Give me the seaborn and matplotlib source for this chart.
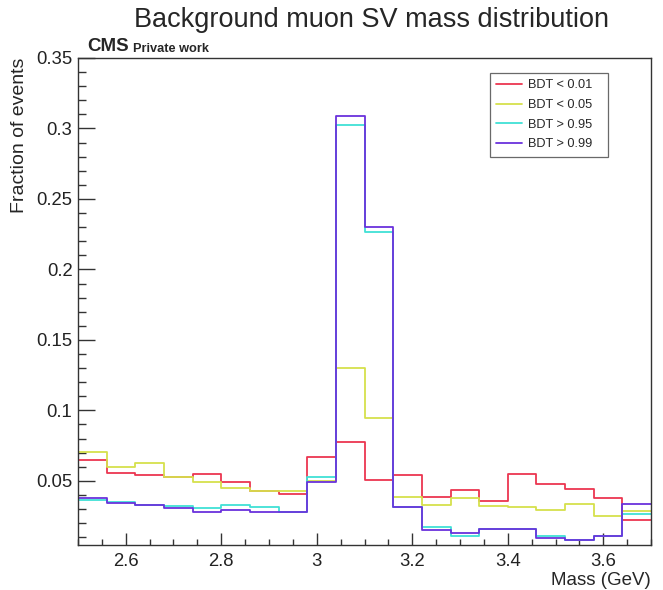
import numpy as np
import pandas as pd
import matplotlib
matplotlib.use("Agg")
import matplotlib.pyplot as plt
from matplotlib.lines import Line2D
from matplotlib.ticker import MultipleLocator, FuncFormatter
import seaborn as sns

# histogram binning (GeV)
bin_edges = [round(2.5 + 0.06 * i, 2) for i in range(21)]

# fraction of events per bin
bdt_lt_001 = [0.0645, 0.0555, 0.0538, 0.0526, 0.0552, 0.0493, 0.0431, 0.0405, 0.0671, 0.0776,
              0.0507, 0.0541, 0.0388, 0.0434, 0.0358, 0.0550, 0.0476, 0.0445, 0.0381, 0.0222]
bdt_lt_005 = [0.0704, 0.0595, 0.0626, 0.0526, 0.0495, 0.0450, 0.0431, 0.0431, 0.0502, 0.1303,
              0.0947, 0.0388, 0.0329, 0.0377, 0.0324, 0.0317, 0.0293, 0.0334, 0.0253, 0.0289]
bdt_gt_095 = [0.0365, 0.0350, 0.0329, 0.0322, 0.0305, 0.0329, 0.0317, 0.0279, 0.0526, 0.3023,
              0.2264, 0.0313, 0.0170, 0.0110, 0.0156, 0.0156, 0.0110, 0.0080, 0.0108, 0.0267]
bdt_gt_099 = [0.0377, 0.0341, 0.0327, 0.0310, 0.0279, 0.0293, 0.0281, 0.0279, 0.0491, 0.3090,
              0.2300, 0.0313, 0.0151, 0.0128, 0.0156, 0.0156, 0.0097, 0.0080, 0.0108, 0.0334]

labels = ["BDT < 0.01", "BDT < 0.05", "BDT > 0.95", "BDT > 0.99"]
colors = ["#ec3650", "#d6e04c", "#40e0d6", "#6a32dc"]
series = [bdt_lt_001, bdt_lt_005, bdt_gt_095, bdt_gt_099]

edges = np.array(bin_edges)
centers = (edges[:-1] + edges[1:]) / 2
df = pd.concat([pd.DataFrame({"mass": centers, "frac": vals, "cut": lab})
                for lab, vals in zip(labels, series)], ignore_index=True)

sns.set_style("white")
plt.rcParams["font.family"] = ["Liberation Sans", "DejaVu Sans"]

fig = plt.figure(figsize=(6.63, 5.90), dpi=100)
ax = fig.add_axes([0.1176, 0.0763, 0.8645, 0.8254])

# one step histogram per BDT cut, drawn in ROOT order (last on top)
for lab, col in zip(labels, colors):
    sns.histplot(data=df[df["cut"] == lab], x="mass", weights="frac", bins=bin_edges,
                 element="step", fill=False, color=col, linewidth=1.3, ax=ax)

ax.set_xlim(2.5, 3.7)
ax.set_ylim(0.0045, 0.35)

ax.xaxis.set_major_locator(MultipleLocator(0.2))
ax.xaxis.set_minor_locator(MultipleLocator(0.05))
ax.yaxis.set_major_locator(MultipleLocator(0.05))
ax.yaxis.set_minor_locator(MultipleLocator(0.01))
fmt = FuncFormatter(lambda v, p: "%g" % round(v, 3))
ax.xaxis.set_major_formatter(fmt)
ax.yaxis.set_major_formatter(fmt)
ax.tick_params(axis="both", which="both", direction="in", bottom=True, left=True,
               top=False, right=False, labelsize=13.3, colors="#333333", labelcolor="#222222")
ax.tick_params(axis="x", which="major", length=9, width=1, pad=6)
ax.tick_params(axis="x", which="minor", length=4, width=1)
ax.tick_params(axis="y", which="major", length=12, width=1, pad=4)
ax.tick_params(axis="y", which="minor", length=6, width=1)
for s in ax.spines.values():
    s.set_color("#333333")
    s.set_linewidth(1)

ax.set_xlabel("Mass (GeV)", loc="right", fontsize=13.5, labelpad=1)
ax.set_ylabel("Fraction of events", loc="top", fontsize=14, labelpad=6)

fig.text(0.56, 0.966, "Background muon SV mass distribution", ha="center", va="center", fontsize=19.5)
ax.text(0.016, 1.006, "CMS", transform=ax.transAxes, fontsize=13.5, fontweight="bold", va="bottom")
ax.text(0.096, 1.006, "Private work", transform=ax.transAxes, fontsize=9.2, fontweight="bold", va="bottom")

handles = [Line2D([0], [0], color=c, lw=1.3) for c in colors]
leg = ax.legend(handles, labels, loc="upper left", bbox_to_anchor=(0.719, 0.801, 0.206, 0.168),
                mode="expand", fontsize=9.2, frameon=True, fancybox=False, edgecolor="#444444",
                handlelength=2.0, borderpad=0.5, labelspacing=0.6, handletextpad=0.5,
                borderaxespad=0)
leg.get_frame().set_linewidth(0.9)

fig.savefig("out.png", dpi=100)
